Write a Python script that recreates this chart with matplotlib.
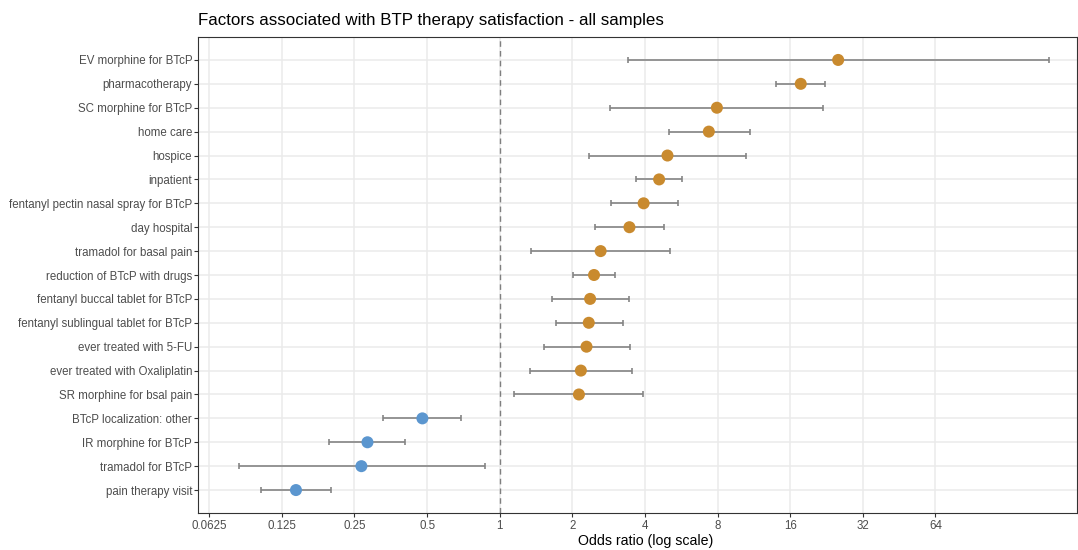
import numpy as np
import matplotlib
matplotlib.use("Agg")
import matplotlib.pyplot as plt

plt.rcParams['font.family'] = ['Liberation Sans', 'DejaVu Sans']

factors = [
    "EV morphine for BTcP", "pharmacotherapy", "SC morphine for BTcP", "home care",
    "hospice", "inpatient", "fentanyl pectin nasal spray for BTcP", "day hospital",
    "tramadol for basal pain", "reduction of BTcP with drugs", "fentanyl buccal tablet for BTcP",
    "fentanyl sublingual tablet for BTcP", "ever treated with 5-FU", "ever treated with Oxaliplatin",
    "SR morphine for bsal pain", "BTcP localization: other", "IR morphine for BTcP",
    "tramadol for BTcP", "pain therapy visit",
]
odds_ratio = [25.3, 17.7, 7.95, 7.36, 4.96, 4.58, 3.95, 3.45, 2.62, 2.46, 2.37, 2.34,
              2.29, 2.17, 2.13, 0.478, 0.283, 0.267, 0.143]
ci_low = [3.39, 14.0, 2.87, 5.01, 2.34, 3.66, 2.88, 2.49, 1.35, 2.02, 1.64, 1.71,
          1.52, 1.33, 1.15, 0.327, 0.196, 0.0829, 0.102]
ci_high = [189, 22.4, 21.9, 10.9, 10.5, 5.68, 5.51, 4.79, 5.08, 3.00, 3.43, 3.23,
           3.46, 3.54, 3.93, 0.694, 0.406, 0.866, 0.200]
x_ticks = [0.0625, 0.125, 0.25, 0.5, 1, 2, 4, 8, 16, 32, 64]
x_tick_labels = ["0.0625", "0.125", "0.25", "0.5", "1", "2", "4", "8", "16", "32", "64"]

W, H = 1078, 550
fig = plt.figure(figsize=(W / 100, H / 100), dpi=100)
ax = fig.add_axes([198/W, 1-513/H, (1077-198)/W, (513-37)/H])

n = len(factors)
y = np.arange(n)[::-1]
orr = np.array(odds_ratio); lo = np.array(ci_low); hi = np.array(ci_high)
colors = np.where(orr > 1, '#C98A2E', '#5B96CF')

for t in x_ticks:
    ax.axvline(t, color='#EBEBEB', lw=1.1, zorder=0)
for yy in y:
    ax.axhline(yy, color='#EBEBEB', lw=1.1, zorder=0)

ax.axvline(1, color='#7F7F7F', lw=1.0, ls=(0, (4, 3)), zorder=1)
ax.errorbar(orr, y, xerr=[orr - lo, hi - orr], fmt='none', ecolor='#858585',
            elinewidth=1.2, capsize=2.2, capthick=1.2, zorder=2)
ax.scatter(orr, y, s=75, c=colors, zorder=3, linewidths=0)

ax.set_xscale('log', base=2)
ax.set_xlim(2**-4.155, 2**7.95)
ax.set_ylim(-0.96, n - 1 + 0.96)
ax.set_xticks(x_ticks)
ax.set_xticklabels(x_tick_labels)
ax.xaxis.set_minor_locator(matplotlib.ticker.NullLocator())
ax.set_yticks(y)
ax.set_yticklabels(factors)
ax.tick_params(axis='both', colors='#333333', labelcolor='#4D4D4D', labelsize=8.3,
               length=3.2, width=0.8)
ax.tick_params(axis='y', pad=1.0)
ax.tick_params(axis='x', pad=1.6)
for s in ax.spines.values():
    s.set_color('#333333'); s.set_linewidth(0.8)

fig.text(646/W, 1-541.5/H, "Odds ratio (log scale)", fontsize=10.2,
         va='center', ha='center', color='black')
fig.text(198/W, 1-20/H, "Factors associated with BTP therapy satisfaction - all samples",
         fontsize=12.2, va='center', ha='left')

fig.savefig("out.png", dpi=100)
